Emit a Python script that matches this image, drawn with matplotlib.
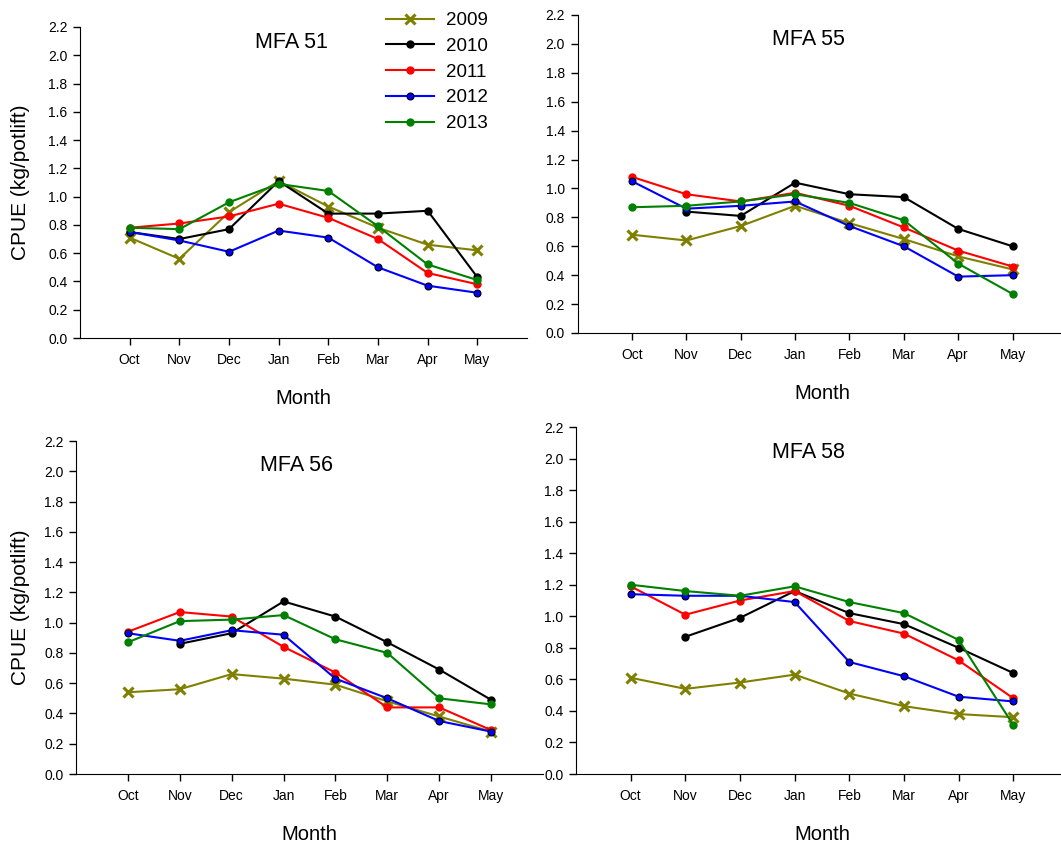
import matplotlib
matplotlib.use("Agg")
import matplotlib.pyplot as plt
import numpy as np

# ── data ──────────────────────────────────────────────────────────────────────

MONTHS = ["Oct", "Nov", "Dec", "Jan", "Feb", "Mar", "Apr", "May"]
YEARS = ["2009", "2010", "2011", "2012", "2013"]
PANELS = ["MFA 51", "MFA 55", "MFA 56", "MFA 58"]

# CPUE (kg/potlift), one list per year, nan = no data
mfa51_2009 = [0.71, 0.56, 0.89, 1.11, 0.93, 0.78, 0.66, 0.62]
mfa51_2010 = [0.75, 0.70, 0.77, 1.11, 0.88, 0.88, 0.90, 0.43]
mfa51_2011 = [0.78, 0.81, 0.86, 0.95, 0.85, 0.70, 0.46, 0.38]
mfa51_2012 = [0.75, 0.69, 0.61, 0.76, 0.71, 0.50, 0.37, 0.32]
mfa51_2013 = [0.78, 0.77, 0.96, 1.09, 1.04, 0.79, 0.52, 0.41]

mfa55_2009 = [0.68, 0.64, 0.74, 0.88, 0.76, 0.65, 0.53, 0.44]
mfa55_2010 = [np.nan, 0.84, 0.81, 1.04, 0.96, 0.94, 0.72, 0.60]
mfa55_2011 = [1.08, 0.96, 0.91, 0.97, 0.88, 0.73, 0.57, 0.46]
mfa55_2012 = [1.05, 0.86, 0.88, 0.91, 0.74, 0.60, 0.39, 0.40]
mfa55_2013 = [0.87, 0.88, 0.91, 0.96, 0.90, 0.78, 0.48, 0.27]

mfa56_2009 = [0.54, 0.56, 0.66, 0.63, 0.59, 0.48, 0.38, 0.28]
mfa56_2010 = [np.nan, 0.86, 0.93, 1.14, 1.04, 0.87, 0.69, 0.49]
mfa56_2011 = [0.94, 1.07, 1.04, 0.84, 0.67, 0.44, 0.44, 0.29]
mfa56_2012 = [0.93, 0.88, 0.95, 0.92, 0.63, 0.50, 0.35, 0.28]
mfa56_2013 = [0.87, 1.01, 1.02, 1.05, 0.89, 0.80, 0.50, 0.46]

mfa58_2009 = [0.61, 0.54, 0.58, 0.63, 0.51, 0.43, 0.38, 0.36]
mfa58_2010 = [np.nan, 0.87, 0.99, 1.16, 1.02, 0.95, 0.80, 0.64]
mfa58_2011 = [1.19, 1.01, 1.10, 1.16, 0.97, 0.89, 0.72, 0.48]
mfa58_2012 = [1.14, 1.13, 1.13, 1.09, 0.71, 0.62, 0.49, 0.46]
mfa58_2013 = [1.20, 1.16, 1.13, 1.19, 1.09, 1.02, 0.85, 0.31]

SERIES = [
    [mfa51_2009, mfa51_2010, mfa51_2011, mfa51_2012, mfa51_2013],
    [mfa55_2009, mfa55_2010, mfa55_2011, mfa55_2012, mfa55_2013],
    [mfa56_2009, mfa56_2010, mfa56_2011, mfa56_2012, mfa56_2013],
    [mfa58_2009, mfa58_2010, mfa58_2011, mfa58_2012, mfa58_2013],
]

# ── styles / layout ───────────────────────────────────────────────────────────

STYLES = [
    dict(color="#808000", marker="x", ms=7, mew=2.2, mec="#808000"),
    dict(color="black", marker="o", ms=5, mec="black"),
    dict(color="#ff0000", marker="o", ms=5, mec="#ff0000"),
    dict(color="#0000ff", marker="o", ms=5, mec="black", mew=0.8),
    dict(color="#008000", marker="o", ms=5, mec="#008000"),
]

W, H = 1061, 846
# left, right, top, bottom in pixels
BOXES = [
    (80, 527, 27, 338),
    (577.6, 1067, 15, 333),
    (76, 543, 441, 774),
    (576, 1068, 427, 774),
]
TITLE_Y = [2.09, 2.03, 2.04, 2.04]

plt.rcParams["font.family"] = ["Liberation Sans", "DejaVu Sans"]

fig = plt.figure(figsize=(W / 100, H / 100), dpi=100)
x = np.arange(len(MONTHS))

axes = []
for i, (l, r, t, b) in enumerate(BOXES):
    ax = fig.add_axes([l / W, 1 - b / H, (r - l) / W, (b - t) / H])
    axes.append(ax)
    for vals, year, st in zip(SERIES[i], YEARS, STYLES):
        ax.plot(x, vals, lw=1.5, label=year, clip_on=False, **st)

    ax.set_xlim(-1, 8)
    ax.set_ylim(0, 2.2)
    ax.set_yticks(np.arange(0, 2.21, 0.2))
    ax.set_yticklabels([f"{v:.1f}" for v in np.arange(0, 2.21, 0.2)])
    ax.set_xticks(x)
    ax.set_xticklabels(MONTHS)
    ax.spines["top"].set_visible(False)
    ax.spines["right"].set_visible(False)
    ax.tick_params(direction="out", length=5, width=1, labelsize=10, pad=4)
    ax.tick_params(axis="x", pad=6)

    ax.text(3.25, TITLE_Y[i], PANELS[i], ha="center", va="center", fontsize=15.5)
    ax.set_xlabel("Month", fontsize=14.5)
    ax.xaxis.set_label_coords(0.5, -51 / (b - t))
    if i in (0, 2):
        ax.set_ylabel("CPUE (kg/potlift)", fontsize=15)
        ax.yaxis.set_label_coords((30 - l) / (r - l), 0.5)

leg = axes[0].legend(loc="upper left", bbox_to_anchor=(386 / W, 1 - 12 / H),
                     bbox_transform=fig.transFigure, frameon=False,
                     fontsize=13.5, handlelength=2.56, handletextpad=0.64,
                     labelspacing=0.46, borderpad=0, borderaxespad=0)

fig.savefig("out.png", dpi=100)
